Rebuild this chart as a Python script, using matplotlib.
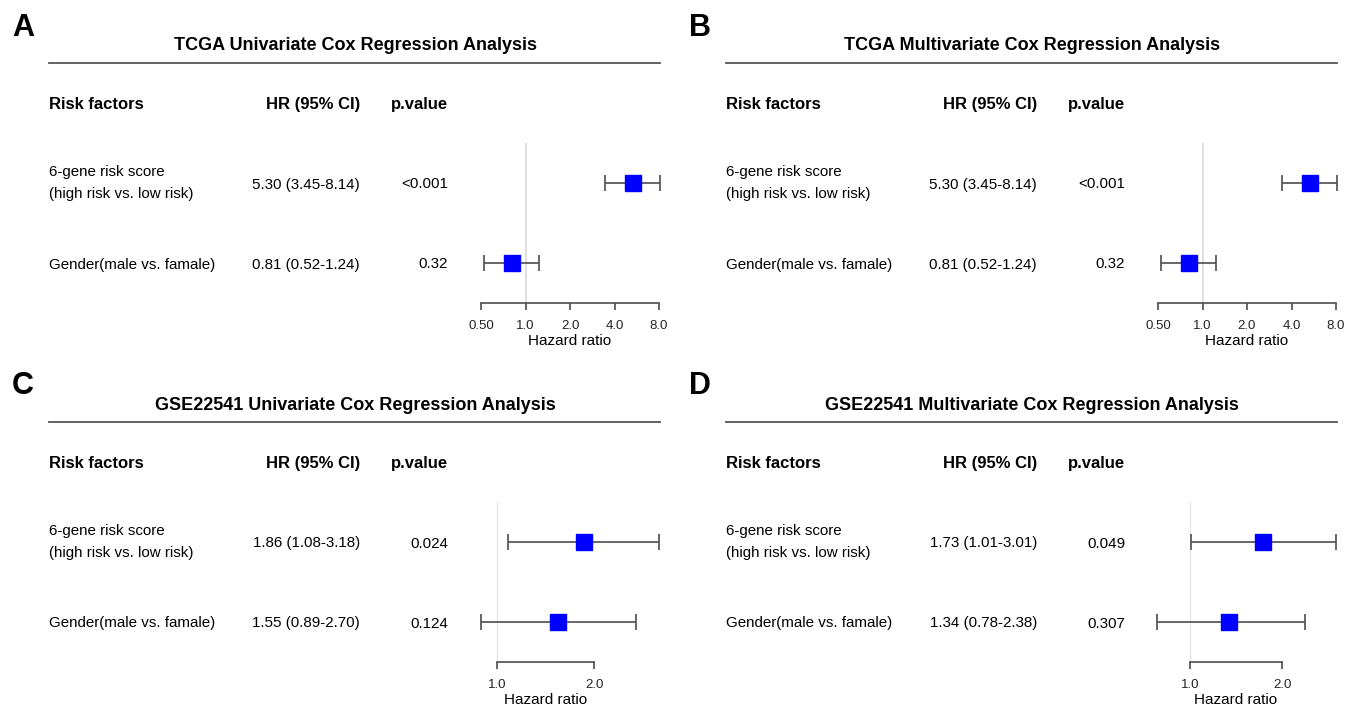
import matplotlib
matplotlib.use('Agg')
import matplotlib.pyplot as plt
from matplotlib.ticker import NullLocator

plt.rcParams['font.family'] = ['Liberation Sans', 'DejaVu Sans']

# Data
letters = ["A", "B", "C", "D"]
titles = ["TCGA Univariate Cox Regression Analysis",
          "TCGA Multivariate Cox Regression Analysis",
          "GSE22541 Univariate Cox Regression Analysis",
          "GSE22541 Multivariate Cox Regression Analysis"]
factors = ["6-gene risk score\n(high risk vs. low risk)", "Gender(male vs. famale)"]
hr = [[5.30, 0.81], [5.30, 0.81], [1.86, 1.55], [1.73, 1.34]]
ci_low = [[3.45, 0.52], [3.45, 0.52], [1.08, 0.89], [1.01, 0.78]]
ci_high = [[8.14, 1.24], [8.14, 1.24], [3.18, 2.70], [3.01, 2.38]]
pvals = [["<0.001", "0.32"], ["<0.001", "0.32"], ["0.024", "0.124"], ["0.049", "0.307"]]
ticks_tcga = [0.5, 1, 2, 4, 8]
ticklabels_tcga = ["0.50", "1.0", "2.0", "4.0", "8.0"]
ticks_gse = [1, 2]
ticklabels_gse = ["1.0", "2.0"]

W, H = 1356, 706
fig = plt.figure(figsize=(W / 100, H / 100), dpi=100)
bg = fig.add_axes([0, 0, 1, 1])
bg.set_xlim(0, W)
bg.set_ylim(H, 0)
bg.axis('off')

# panel offsets (pixels) and forest plot extents
offsets = [(0, 0), (677, 0), (0, 359), (677, 359)]
forest_x = [(481, 659), (1158, 1336), (497, 594), (1190, 1282)]
ticks = [ticks_tcga, ticks_tcga, ticks_gse, ticks_gse]
ticklabels = [ticklabels_tcga, ticklabels_tcga, ticklabels_gse, ticklabels_gse]
rows = [3, 1]
line_col = '#4d4d4d'

for i in range(4):
    dx, dy = offsets[i]
    bg.text(23 + dx, 24 + dy, letters[i], fontsize=22, fontweight='bold',
            ha='center', va='center_baseline')
    bg.text(355 + dx, 44 + dy, titles[i], fontsize=13, fontweight='bold',
            ha='center', va='center_baseline')
    bg.plot([49 + dx, 660 + dx], [63 + dy, 63 + dy], color='#555555', lw=1.3)

    bg.text(49 + dx, 103 + dy, "Risk factors", fontsize=12, fontweight='bold',
            va='center_baseline')
    bg.text(360 + dx, 103 + dy, "HR (95% CI)", fontsize=12, fontweight='bold',
            ha='right', va='center_baseline')
    bg.text(448 + dx, 103 + dy, "p.value", fontsize=12, fontweight='bold',
            ha='right', va='center_baseline')

    for j, ry in enumerate([183, 263]):
        multi = "\n" in factors[j]
        bg.text(49 + dx, ry + dy, factors[j], fontsize=10.9,
                va='center' if multi else 'center_baseline', linespacing=1.7)
        hr_txt = f"{hr[i][j]:.2f} ({ci_low[i][j]:.2f}-{ci_high[i][j]:.2f})"
        bg.text(360 + dx, ry + dy, hr_txt, fontsize=10.9, ha='right',
                va='center_baseline')
        bg.text(448 + dx, ry + dy, pvals[i][j], fontsize=10.9, ha='right',
                va='center_baseline')

    # forest plot axes
    x0, x1 = forest_x[i]
    y0, y1 = 143 + dy, 303 + dy
    ax = fig.add_axes([x0 / W, 1 - y1 / H, (x1 - x0) / W, (y1 - y0) / H])
    ax.patch.set_alpha(0)
    ax.set_xscale('log', base=2)
    ax.set_xlim(ticks[i][0], ticks[i][-1])
    ax.set_ylim(0, 4)
    ax.axvline(1, color='#d9d9d9', lw=1.2, zorder=1)

    for j in range(2):
        h = hr[i][j]
        ax.errorbar([h], [rows[j]],
                    xerr=[[h - ci_low[i][j]], [ci_high[i][j] - h]],
                    fmt='none', ecolor=line_col, elinewidth=1.2, capsize=6,
                    capthick=1.2, clip_on=False, zorder=2)
        ax.plot([h], [rows[j]], marker='s', ms=12, color='#0000ff',
                mec='#0000ff', clip_on=False, zorder=3)

    for s in ['left', 'top', 'right']:
        ax.spines[s].set_visible(False)
    ax.spines['bottom'].set_bounds(ticks[i][0], ticks[i][-1])
    ax.spines['bottom'].set_color(line_col)
    ax.spines['bottom'].set_linewidth(1.2)
    ax.set_xticks(ticks[i])
    ax.set_xticklabels(ticklabels[i])
    ax.xaxis.set_minor_locator(NullLocator())
    ax.set_yticks([])
    ax.tick_params(axis='x', length=5, width=1.2, color=line_col,
                   labelsize=9.5, pad=7, labelcolor='#222222')
    ax.set_xlabel("Hazard ratio", fontsize=11, labelpad=2)

fig.savefig("out.png", dpi=100)
